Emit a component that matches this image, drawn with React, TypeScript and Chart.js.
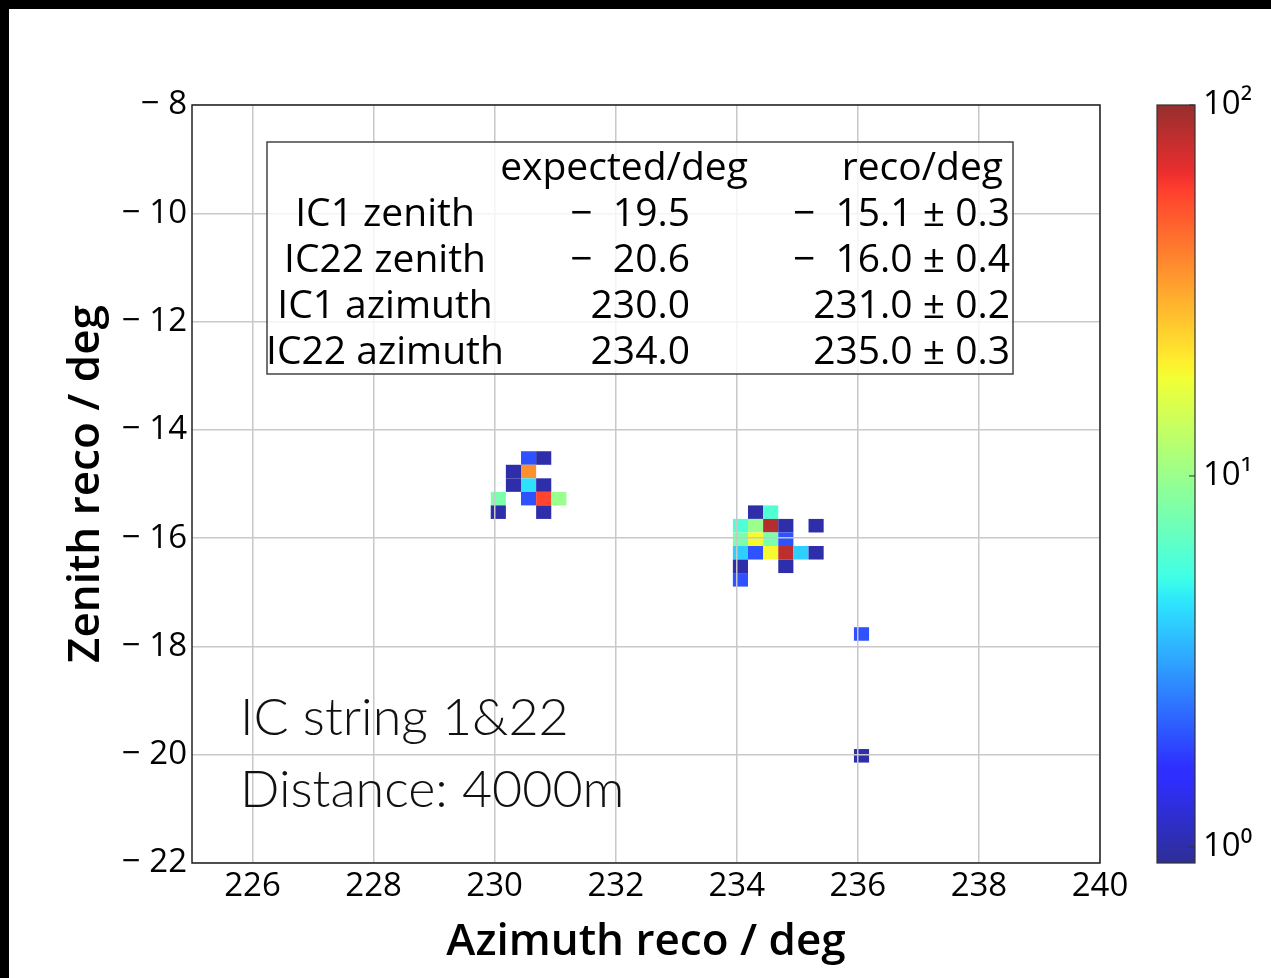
import React, { useEffect, useRef } from 'react';
import { Chart, registerables } from 'chart.js';

Chart.register(...registerables);

// ---- data ----
const binX = [
  230.56, 230.81,
  230.31, 230.56,
  230.31, 230.56, 230.81,
  230.06, 230.56, 230.81, 231.06,
  230.06, 230.81,
  234.31, 234.56,
  234.06, 234.31, 234.56, 234.81, 235.31,
  234.06, 234.31, 234.56, 234.81,
  234.06, 234.31, 234.56, 234.81, 235.06, 235.31,
  234.06, 234.81,
  234.06,
  236.06,
  236.06,
];
const binY = [
  -14.52, -14.52,
  -14.77, -14.77,
  -15.02, -15.02, -15.02,
  -15.27, -15.27, -15.27, -15.27,
  -15.52, -15.52,
  -15.52, -15.52,
  -15.77, -15.77, -15.77, -15.77, -15.77,
  -16.02, -16.02, -16.02, -16.02,
  -16.27, -16.27, -16.27, -16.27, -16.27, -16.27,
  -16.52, -16.52,
  -16.77,
  -17.77,
  -20.02,
];
const counts = [
  2, 1,
  1, 36,
  1, 4.5, 1,
  8, 2, 57, 10,
  1, 1,
  1, 6,
  6, 10, 87, 1, 1,
  8, 19, 8, 2,
  4, 2, 19, 82, 4, 1,
  1, 1,
  2,
  2,
  1,
];
const BIN = 0.25;
const xRange = [225, 240];
const yRange = [-22, -8];
const cbRange = [0.905, 100];
const xTicks = [226, 228, 230, 232, 234, 236, 238, 240];
const yTicks = [-8, -10, -12, -14, -16, -18, -20, -22];
const cbTicks = [1, 10, 100];
const cbTickLabels = ['10\u2070', '10\u00b9', '10\u00b2'];

const tableHeader = ['expected/deg', 'reco/deg'];
const tableRows = ['IC1 zenith', 'IC22 zenith', 'IC1 azimuth', 'IC22 azimuth'];
const expectedVals = ['\u2212  19.5', '\u2212  20.6', '230.0', '234.0'];
const recoVals = ['\u2212  15.1 \u00b1 0.3', '\u2212  16.0 \u00b1 0.4', '231.0 \u00b1 0.2', '235.0 \u00b1 0.3'];
const annotationLines = ['IC string 1&22', 'Distance: 4000m'];

const FONT = "'Open Sans', 'Noto Sans', sans-serif";

// jet colormap
const JET_R = [[0, 0], [0.35, 0], [0.66, 1], [0.89, 1], [1, 0.5]];
const JET_G = [[0, 0], [0.125, 0], [0.375, 1], [0.64, 1], [0.91, 0], [1, 0]];
const JET_B = [[0, 0.5], [0.11, 1], [0.34, 1], [0.65, 0], [1, 0]];
function interp(pts: number[][], t: number) {
  for (let i = 1; i < pts.length; i++) {
    if (t <= pts[i][0]) {
      const [x0, y0] = pts[i - 1];
      const [x1, y1] = pts[i];
      return y0 + ((t - x0) / (x1 - x0)) * (y1 - y0);
    }
  }
  return pts[pts.length - 1][1];
}
const ALPHA = 0.82;
function jet(t: number) {
  t = Math.max(0, Math.min(1, t));
  const c = [interp(JET_R, t), interp(JET_G, t), interp(JET_B, t)].map((v) =>
    Math.round(255 * (1 - ALPHA) + 255 * v * ALPHA)
  );
  return `rgb(${c[0]},${c[1]},${c[2]})`;
}
function tFor(v: number) {
  const lo = Math.log10(cbRange[0]);
  const hi = Math.log10(cbRange[1]);
  return (Math.log10(v) - lo) / (hi - lo);
}

const zeroPad = (s: any) => {
  s.paddingTop = 0;
  s.paddingBottom = 0;
  s.paddingLeft = 0;
  s.paddingRight = 0;
};

const heatPlugin = {
  id: 'heatmap',
  beforeDraw(chart: any) {
    const { ctx, chartArea, scales } = chart;
    const x = scales.x;
    const y = scales.y;
    ctx.save();
    ctx.beginPath();
    ctx.rect(chartArea.left, chartArea.top, chartArea.right - chartArea.left, chartArea.bottom - chartArea.top);
    ctx.clip();
    for (const p of chart.data.datasets[0].data) {
      const x0 = x.getPixelForValue(p.x - BIN / 2);
      const x1 = x.getPixelForValue(p.x + BIN / 2);
      const y0 = y.getPixelForValue(p.y + BIN / 2);
      const y1 = y.getPixelForValue(p.y - BIN / 2);
      ctx.fillStyle = jet(tFor(p.v));
      ctx.fillRect(x0, y0, x1 - x0, y1 - y0);
    }
    ctx.restore();
  },
  afterDraw(chart: any) {
    const { ctx, chartArea: ca, scales } = chart;
    ctx.save();
    // frame
    ctx.strokeStyle = '#222';
    ctx.lineWidth = 1.5;
    ctx.strokeRect(ca.left, ca.top, ca.right - ca.left, ca.bottom - ca.top);

    // legend table
    const bl = ca.left + 75;
    const bt = ca.top + 37;
    const bw = 746;
    const bh = 232;
    ctx.fillStyle = 'rgba(255,255,255,0.8)';
    ctx.fillRect(bl, bt, bw, bh);
    ctx.strokeStyle = '#444';
    ctx.lineWidth = 1.5;
    ctx.strokeRect(bl, bt, bw, bh);
    ctx.fillStyle = '#000';
    ctx.font = `39px ${FONT}`;
    ctx.textBaseline = 'alphabetic';
    ctx.textAlign = 'center';
    ctx.fillText(tableHeader[0], bl + 357, bt + 38);
    ctx.textAlign = 'right';
    ctx.fillText(tableHeader[1], bl + 736, bt + 38);
    tableRows.forEach((r, i) => {
      const by = bt + 38 + 46 * (i + 1);
      ctx.textAlign = 'center';
      ctx.fillText(r, bl + 118, by);
      ctx.textAlign = 'right';
      ctx.fillText(expectedVals[i], bl + 423, by);
      ctx.fillText(recoVals[i], bl + 743, by);
    });

    // annotation
    ctx.textAlign = 'left';
    ctx.fillStyle = '#111';
    ctx.font = `300 52px Lato, sans-serif`;
    annotationLines.forEach((l, i) => {
      ctx.fillText(l, ca.left + 48, ca.top + 630 + 72 * i);
    });

    // colorbar
    const cb = scales.cb;
    const cl = cb.left + 57;
    const cr = cb.left + 95;
    const grad = ctx.createLinearGradient(0, ca.bottom, 0, ca.top);
    for (let s = 0; s <= 100; s++) {
      grad.addColorStop(s / 100, jet(s / 100));
    }
    ctx.fillStyle = grad;
    ctx.fillRect(cl, ca.top, cr - cl, ca.bottom - ca.top);
    ctx.strokeStyle = '#333';
    ctx.lineWidth = 1.2;
    ctx.strokeRect(cl, ca.top, cr - cl, ca.bottom - ca.top);
    ctx.lineWidth = 1;
    cbTicks.forEach((v) => {
      const py = cb.getPixelForValue(v);
      ctx.beginPath();
      ctx.moveTo(cr - 6, py);
      ctx.lineTo(cr, py);
      ctx.stroke();
    });
    ctx.restore();
  },
};

export default function App() {
  const ref = useRef<HTMLCanvasElement>(null);
  useEffect(() => {
    if (!ref.current) return;
    const chart = new Chart(ref.current, {
      type: 'scatter',
      data: {
        datasets: [
          {
            data: binX.map((x, i) => ({ x, y: binY[i], v: counts[i] })) as any,
            pointRadius: 0,
            pointHoverRadius: 0,
          },
        ],
      },
      options: {
        animation: false,
        responsive: false,
        events: [],
        layout: { padding: { top: 96, left: 0, right: 0, bottom: 0 } },
        plugins: { legend: { display: false }, tooltip: { enabled: false } },
        scales: {
          x: {
            type: 'linear',
            min: xRange[0],
            max: xRange[1],
            afterFit: (s: any) => { s.height = 115; zeroPad(s); },
            afterBuildTicks: (s: any) => { s.ticks = xTicks.map((value) => ({ value })); },
            grid: { color: '#c8c8c8', lineWidth: 1.5, drawTicks: false },
            border: { display: false },
            ticks: {
              color: '#000',
              font: { family: FONT, size: 33 },
              padding: 4,
              maxRotation: 0,
              callback: (v: any) => String(v),
            },
            title: {
              display: true,
              text: 'Azimuth reco / deg',
              color: '#000',
              font: { family: FONT, size: 44, weight: '600' },
              padding: { top: 0, bottom: 9 },
            },
          },
          y: {
            type: 'linear',
            min: yRange[0],
            max: yRange[1],
            afterFit: (s: any) => { s.width = 183; zeroPad(s); },
            afterBuildTicks: (s: any) => { s.ticks = yTicks.map((value) => ({ value })); },
            grid: { color: '#c8c8c8', lineWidth: 1.5, drawTicks: false },
            border: { display: false },
            ticks: {
              color: '#000',
              font: { family: FONT, size: 33 },
              padding: 5,
              callback: (v: any) => '\u2212 ' + Math.abs(v),
            },
            title: {
              display: true,
              text: 'Zenith reco / deg',
              color: '#000',
              font: { family: FONT, size: 44, weight: '600' },
              padding: { top: 51, bottom: 0 },
            },
          },
          cb: {
            type: 'logarithmic',
            position: 'right',
            min: cbRange[0],
            max: cbRange[1],
            afterFit: (s: any) => { s.width = 171; zeroPad(s); },
            afterBuildTicks: (s: any) => { s.ticks = cbTicks.map((value) => ({ value })); },
            grid: { display: false, drawTicks: false },
            border: { display: false },
            ticks: {
              color: '#000',
              font: { family: FONT, size: 33 },
              padding: 103,
              callback: (v: any) => cbTickLabels[cbTicks.indexOf(Number(v))] ?? '',
            },
          },
        } as any,
      },
      plugins: [heatPlugin],
    });
    return () => chart.destroy();
  }, []);
  return (
    <div style={{ position: 'fixed', left: 0, top: 0, width: 1271, height: 978, background: '#000' }}>
      <canvas
        ref={ref}
        width={1262}
        height={969}
        style={{ position: 'absolute', left: 9, top: 9, width: 1262, height: 969, background: '#fff' }}
      />
    </div>
  );
}
